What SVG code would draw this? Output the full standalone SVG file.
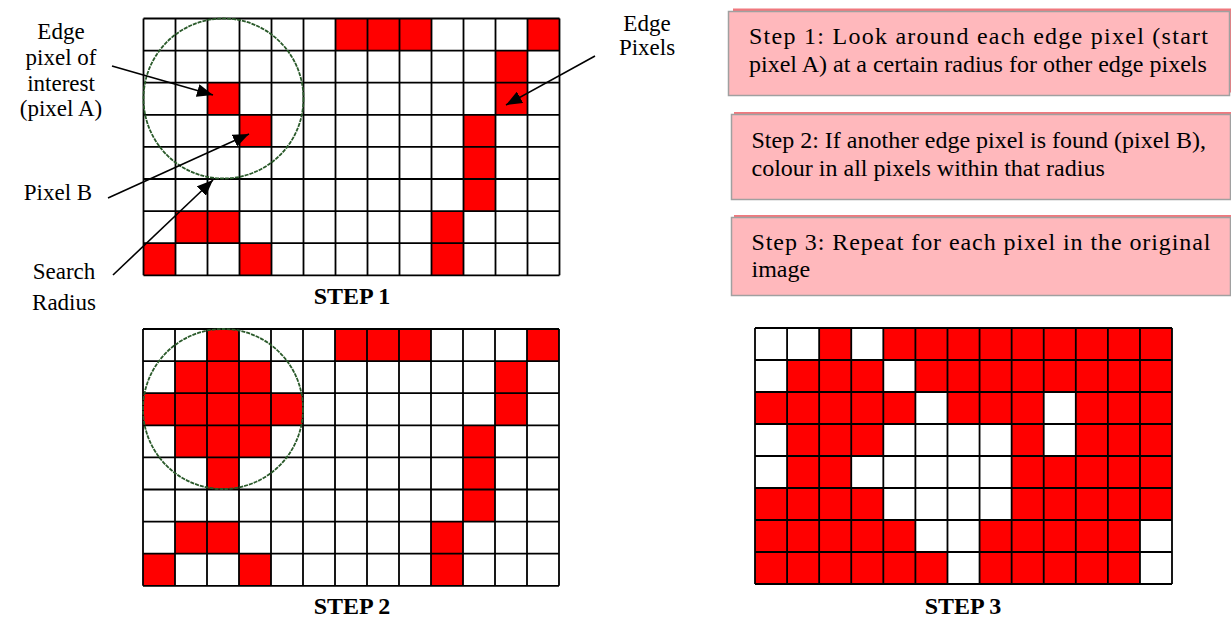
<svg xmlns="http://www.w3.org/2000/svg" width="1231" height="619" viewBox="0 0 1231 619">
<style>
.lbl{font-family:"Liberation Serif","Times New Roman",serif;font-size:23px;fill:#000;text-anchor:middle}
.box{font-family:"Liberation Serif","Times New Roman",serif;font-size:24px;fill:#000}
.step{font-family:"Liberation Serif","Times New Roman",serif;font-size:24px;font-weight:bold;fill:#000;text-anchor:middle}
.bg{fill:#fff}
.r{fill:#ff0000}
.gl{stroke:#000;stroke-width:1.8;fill:none}
.circ{fill:none;stroke:#2a5a2a;stroke-width:1.8;stroke-dasharray:4 1}
.conn{stroke:#000;stroke-width:1.6;fill:none}
.bx{fill:#ffb8bc;stroke:#a0a0a0;stroke-width:1.5}
.sh{fill:#f0787e}
</style>
<defs>
<marker id="ah" markerUnits="userSpaceOnUse" markerWidth="17" markerHeight="13" refX="16" refY="6.5" orient="auto">
<path d="M0,0 L16,6.5 L0,13 z" fill="#000"/>
</marker>
</defs>

<g id="grid1">
<rect class="bg" x="143.5" y="18.5" width="416" height="256.8"/>
<g class="r">
<rect x="335.5" y="18.5" width="96" height="32.1"/>
<rect x="527.5" y="18.5" width="32" height="32.1"/>
<rect x="495.5" y="50.6" width="32" height="64.2"/>
<rect x="207.5" y="82.7" width="32" height="32.1"/>
<rect x="239.5" y="114.8" width="32" height="32.1"/>
<rect x="463.5" y="114.8" width="32" height="96.3"/>
<rect x="175.5" y="211.1" width="64" height="32.1"/>
<rect x="431.5" y="211.1" width="32" height="64.2"/>
<rect x="143.5" y="243.2" width="32" height="32.1"/>
<rect x="239.5" y="243.2" width="32" height="32.1"/>
</g>
<path class="gl" d="M143.5,18.5V275.3M175.5,18.5V275.3M207.5,18.5V275.3M239.5,18.5V275.3M271.5,18.5V275.3M303.5,18.5V275.3M335.5,18.5V275.3M367.5,18.5V275.3M399.5,18.5V275.3M431.5,18.5V275.3M463.5,18.5V275.3M495.5,18.5V275.3M527.5,18.5V275.3M559.5,18.5V275.3M143.5,18.5H559.5M143.5,50.6H559.5M143.5,82.7H559.5M143.5,114.8H559.5M143.5,146.9H559.5M143.5,179H559.5M143.5,211.1H559.5M143.5,243.2H559.5M143.5,275.3H559.5"/>
<circle class="circ" cx="223.5" cy="98.5" r="80"/>
</g>

<g id="grid2">
<rect class="bg" x="143" y="329" width="416" height="256.8"/>
<g class="r">
<rect x="207" y="329" width="32" height="32.1"/>
<rect x="335" y="329" width="96" height="32.1"/>
<rect x="527" y="329" width="32" height="32.1"/>
<rect x="175" y="361.1" width="96" height="32.1"/>
<rect x="495" y="361.1" width="32" height="64.2"/>
<rect x="143" y="393.2" width="160" height="32.1"/>
<rect x="175" y="425.3" width="96" height="32.1"/>
<rect x="207" y="457.4" width="32" height="32.1"/>
<rect x="463" y="425.3" width="32" height="96.3"/>
<rect x="175" y="521.6" width="64" height="32.1"/>
<rect x="431" y="521.6" width="32" height="64.2"/>
<rect x="143" y="553.7" width="32" height="32.1"/>
<rect x="239" y="553.7" width="32" height="32.1"/>
</g>
<path class="gl" d="M143,329V585.8M175,329V585.8M207,329V585.8M239,329V585.8M271,329V585.8M303,329V585.8M335,329V585.8M367,329V585.8M399,329V585.8M431,329V585.8M463,329V585.8M495,329V585.8M527,329V585.8M559,329V585.8M143,329H559M143,361.1H559M143,393.2H559M143,425.3H559M143,457.4H559M143,489.5H559M143,521.6H559M143,553.7H559M143,585.8H559"/>
<circle class="circ" cx="223" cy="409" r="80"/>
</g>

<g id="grid3">
<rect class="r" x="755" y="328" width="417" height="256"/>
<g class="bg">
<rect x="755" y="328" width="64.16" height="32"/>
<rect x="851.24" y="328" width="32.08" height="32"/>
<rect x="755" y="360" width="32.08" height="32"/>
<rect x="883.32" y="360" width="32.08" height="32"/>
<rect x="915.4" y="392" width="32.08" height="32"/>
<rect x="1043.72" y="392" width="32.08" height="64"/>
<rect x="755" y="424" width="32.08" height="64"/>
<rect x="883.32" y="424" width="128.32" height="96"/>
<rect x="851.24" y="456" width="32.08" height="32"/>
<rect x="915.4" y="520" width="64.16" height="32"/>
<rect x="947.48" y="552" width="32.08" height="32"/>
<rect x="1139.92" y="520" width="32.08" height="64"/>
</g>
<path class="gl" d="M755,328V584M787.08,328V584M819.16,328V584M851.24,328V584M883.32,328V584M915.4,328V584M947.48,328V584M979.56,328V584M1011.64,328V584M1043.72,328V584M1075.8,328V584M1107.88,328V584M1139.96,328V584M1172,328V584M755,328H1172M755,360H1172M755,392H1172M755,424H1172M755,456H1172M755,488H1172M755,520H1172M755,552H1172M755,584H1172"/>
</g>

<g id="labels">
<text class="lbl" x="61" y="39">Edge</text>
<text class="lbl" x="61" y="65">pixel of</text>
<text class="lbl" x="61" y="91">interest</text>
<text class="lbl" x="61" y="116">(pixel A)</text>
<text class="lbl" x="58" y="200">Pixel B</text>
<text class="lbl" x="64" y="279">Search</text>
<text class="lbl" x="64" y="310">Radius</text>
<text class="lbl" x="647" y="31">Edge</text>
<text class="lbl" x="647" y="55">Pixels</text>
<text class="step" x="352" y="304">STEP 1</text>
<text class="step" x="352" y="614">STEP 2</text>
<text class="step" x="963" y="614">STEP 3</text>
</g>

<g id="box1">
<rect class="sh" x="733" y="8.5" width="500" height="84"/>
<rect class="bx" x="728.5" y="11.5" width="501" height="84"/>
<text class="box" x="749" y="44" textLength="459" lengthAdjust="spacing">Step 1: Look around each edge pixel (start</text>
<text class="box" x="749" y="72">pixel A) at a certain radius for other edge pixels</text>
</g>
<g id="box2">
<rect class="sh" x="734" y="112" width="500" height="86"/>
<rect class="bx" x="731.5" y="114.5" width="499" height="85"/>
<text class="box" x="751.5" y="148">Step 2: If another edge pixel is found (pixel B),</text>
<text class="box" x="751.5" y="176">colour in all pixels within that radius</text>
</g>
<g id="box3">
<rect class="sh" x="734" y="215" width="500" height="79"/>
<rect class="bx" x="731.5" y="217.5" width="499" height="78"/>
<text class="box" x="751.5" y="250" textLength="459" lengthAdjust="spacing">Step 3: Repeat for each pixel in the original</text>
<text class="box" x="751.5" y="277">image</text>
</g>

<g id="connectors">
<line class="conn" x1="112" y1="66" x2="213" y2="95" marker-end="url(#ah)"/>
<line class="conn" x1="108" y1="198" x2="249" y2="134" marker-end="url(#ah)"/>
<line class="conn" x1="113" y1="275" x2="213" y2="180" marker-end="url(#ah)"/>
<line class="conn" x1="595" y1="56" x2="506" y2="105" marker-end="url(#ah)"/>
</g>
</svg>
